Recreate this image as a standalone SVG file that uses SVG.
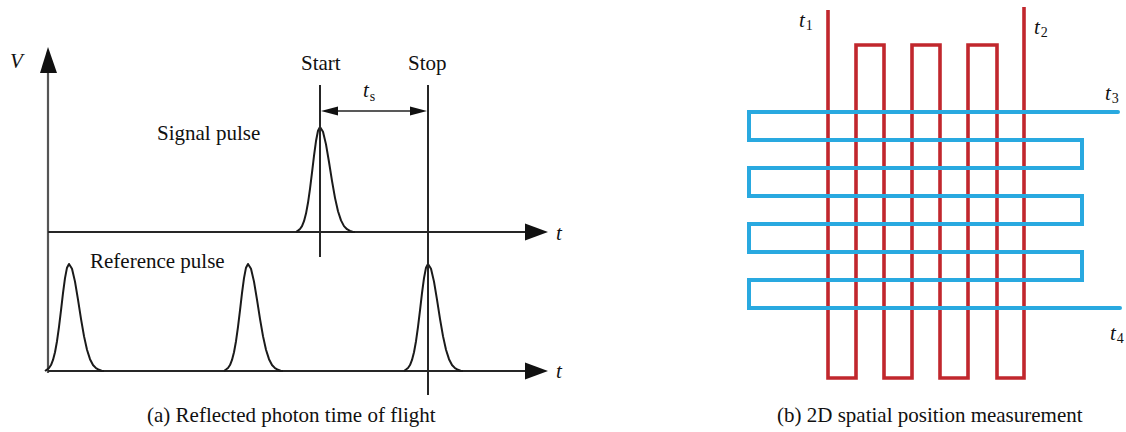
<svg xmlns="http://www.w3.org/2000/svg" width="1126" height="432" viewBox="0 0 1126 432">
<style>
text{font-family:"Liberation Serif","Times New Roman",serif;fill:#111}
.lbl{font-size:21px}
.it{font-style:italic;font-size:21px}
.sub{font-size:14px;font-style:normal}
.axis{stroke:#262626;stroke-width:2;fill:none}
.vax{stroke:#555;stroke-width:2.2;fill:none}
.pulse{stroke:#1a1a1a;stroke-width:2;fill:none;stroke-linejoin:round}
.red{stroke:#C1272D;stroke-width:3.6;fill:none;stroke-linejoin:miter}
.blue{stroke:#29A9E0;stroke-width:4;fill:none;stroke-linejoin:miter;stroke-linecap:round}
</style>
<defs>
<path id="pulse" d="M-24,0 L-22,-1.4 -20,-3 -18,-5.9 -16,-10.9 -14,-18.6 -12,-29.5 -10,-43.6 -8,-60 -6,-77 -4,-91.9 -2,-102.3 0,-106 3,-101.3 6,-88.5 9,-70.7 12,-51.6 15,-34.5 18,-21 21,-11.7 24,-5.9 27,-2.8 30,-1.2 33,0 35,0"/>
</defs>
<g id="panel-a">
<g id="axes">
<line class="vax" x1="48" y1="70" x2="48" y2="373"/>
<polygon points="48,47 40,73 57,73" fill="#111"/>
<line class="axis" x1="48" y1="232" x2="528" y2="232"/>
<polygon points="548,232 525,223.5 525,240.5" fill="#111"/>
<line class="axis" x1="48" y1="371" x2="528" y2="371"/>
<polygon points="548,371 525,362.5 525,379.5" fill="#111"/>
<text class="it" x="10" y="68">V</text>
<text class="it" x="556" y="240">t</text>
<text class="it" x="556" y="378">t</text>
</g>
<g id="signal-pulse">
<use href="#pulse" class="pulse" transform="translate(320,232) scale(1,0.99)"/>
<text class="lbl" x="157" y="140">Signal pulse</text>
</g>
<g id="reference-pulses">
<use href="#pulse" class="pulse" transform="translate(69,371) scale(1,1.01)"/>
<use href="#pulse" class="pulse" transform="translate(248,371) scale(1,1.01)"/>
<use href="#pulse" class="pulse" transform="translate(428,371) scale(1,1.01)"/>
<text class="lbl" x="90" y="268">Reference pulse</text>
</g>
<g id="start">
<line class="axis" x1="320" y1="85" x2="320" y2="257"/>
<text class="lbl" x="301" y="70">Start</text>
</g>
<g id="stop">
<line class="axis" x1="428" y1="85" x2="428" y2="395"/>
<text class="lbl" x="408" y="70">Stop</text>
</g>
<g id="ts">
<line stroke="#222" stroke-width="1.6" x1="334" y1="111" x2="414" y2="111"/>
<polygon points="321,111 338,106.5 338,115.5" fill="#111"/>
<polygon points="427,111 410,106.5 410,115.5" fill="#111"/>
<text class="it" x="363" y="97">t<tspan class="sub" dx="1" dy="4">s</tspan></text>
</g>
<text class="lbl" x="147" y="422">(a) Reflected photon time of flight</text>
</g>
<g id="panel-b">
<g id="red-wire">
<path class="red" d="M828,10 V378 H856 V45 H884 V378 H912 V45 H940 V378 H968 V45 H997 V378 H1024 V7"/>
</g>
<g id="blue-wire">
<path class="blue" d="M1118,112 H749 V140 H1082 V168 H749 V196 H1082 V224 H749 V252 H1082 V280 H749 V308 H1120"/>
</g>
<text class="it" x="799" y="27">t<tspan class="sub" dx="1" dy="3">1</tspan></text>
<text class="it" x="1034" y="34">t<tspan class="sub" dx="1" dy="3">2</tspan></text>
<text class="it" x="1105" y="100">t<tspan class="sub" dx="1" dy="3">3</tspan></text>
<text class="it" x="1110" y="340">t<tspan class="sub" dx="1" dy="3">4</tspan></text>
<text class="lbl" x="777" y="422">(b) 2D spatial position measurement</text>
</g>
</svg>
